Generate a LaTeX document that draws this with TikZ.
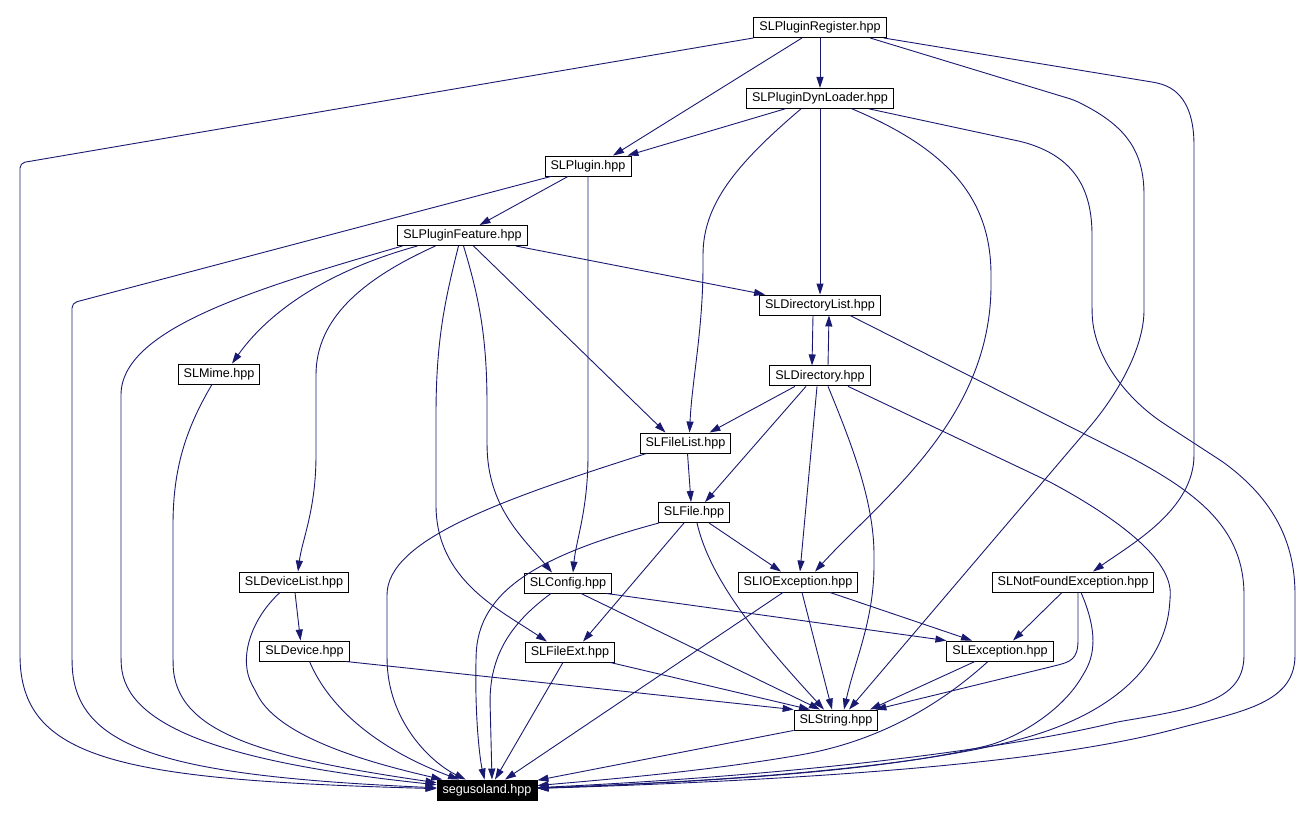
\documentclass[tikz,border=0pt]{standalone}
\usepackage{fontspec}
\setmainfont{Liberation Sans}
\usetikzlibrary{positioning,arrows.meta}
\definecolor{edgeblue}{HTML}{191970}

\begin{document}
\begin{tikzpicture}[
  x=1pt, y=-1pt,
  font=\fontsize{12.6}{14}\selectfont,
  hdr/.style={draw=black, line width=0.9pt, fill=white, inner xsep=5.5pt, inner ysep=0pt, minimum height=20pt},
  root/.style={hdr, fill=black, text=white},
  dep/.style={draw=edgeblue, line width=0.9pt, -{Triangle[length=11pt,width=7pt]}, rounded corners=5pt},
]
\useasboundingbox (0,0) rectangle (1313,817);

% ---------------- headers ----------------
\node[hdr] (reg) at (820,27.5) {SLPluginRegister.hpp};
\node[hdr, below=50pt of reg] (dynloader) {SLPluginDynLoader.hpp};
\node[hdr] (plugin) at (588,166) {SLPlugin.hpp};
\node[hdr] (feature) at (462.5,235.5) {SLPluginFeature.hpp};
\node[hdr] (dirlist) at (820,305) {SLDirectoryList.hpp};
\node[hdr] (mime) at (219,374) {SLMime.hpp};
\node[hdr, below=50pt of dirlist] (directory) {SLDirectory.hpp};
\node[hdr] (filelist) at (685.5,443) {SLFileList.hpp};
\node[hdr] (file) at (694,512.5) {SLFile.hpp};
\node[hdr] (devlist) at (294,582) {SLDeviceList.hpp};
\node[hdr] (config) at (568,583) {SLConfig.hpp};
\node[hdr] (ioexc) at (798,582) {SLIOException.hpp};
\node[hdr] (notfound) at (1073,582) {SLNotFoundException.hpp};
\node[hdr] (device) at (304.5,651) {SLDevice.hpp};
\node[hdr] (fileext) at (570,652) {SLFileExt.hpp};
\node[hdr] (exc) at (1000,651) {SLException.hpp};
\node[hdr] (string) at (836,720) {SLString.hpp};
\node[root] (seg) at (487,790) {segusoland.hpp};

% ---------------- SLPluginRegister ----------------
\draw[dep] (reg.south west) -- (20,163) -- (20,650) .. controls (20,760) and (120,780) .. (seg);
\draw[dep] ([xshift=-18pt]reg.south) -- ([xshift=25pt]plugin.north);
\draw[dep] (reg) -- (dynloader);
\draw[dep] ([xshift=50pt]reg.south) -- (1074,100) .. controls (1125,125) and (1144,150) .. (1144,200) -- (1144,305) .. controls (1144,350) and (1115,397) .. (1087,430) -- ([xshift=13pt]string.north);
\draw[dep] ([xshift=-3pt]reg.south east) -- (1158,83) .. controls (1185,92) and (1194,115) .. (1194,150) -- (1194,450) .. controls (1194,510) and (1130,545) .. ([xshift=20pt]notfound.north);

% ---------------- SLPluginDynLoader ----------------
\draw[dep] ([xshift=-35pt]dynloader.south) -- ([xshift=-4pt]plugin.north east);
\draw[dep] ([xshift=-19pt]dynloader.south) .. controls (735,165) and (703,205) .. (703,260) .. controls (703,330) and (692,380) .. ([xshift=4pt]filelist.north);
\draw[dep] (dynloader) -- (dirlist);
\draw[dep] ([xshift=32pt]dynloader.south) .. controls (950,150) and (991,200) .. (991,280) .. controls (991,420) and (880,500) .. ([xshift=17pt]ioexc.north);
\draw[dep] ([xshift=49pt]dynloader.south) -- (1023,142) .. controls (1075,158) and (1092,190) .. (1092,240) -- (1092,310) .. controls (1094,360) and (1130,400) .. (1163,423) -- (1223,462) .. controls (1280,505) and (1295,550) .. (1295,600) -- (1295,650) .. controls (1295,700) and (1250,710) .. (1183,727) .. controls (1080,755) and (900,777) .. (seg);

% ---------------- SLPlugin ----------------
\draw[dep] ([xshift=-37pt]plugin.south) -- (72,303) -- (72,660) .. controls (75,750) and (170,776) .. (seg);
\draw[dep] ([xshift=-20pt]plugin.south) -- ([xshift=17pt]feature.north);
\draw[dep] (plugin.south) -- (588,450) .. controls (588,510) and (576,540) .. ([xshift=5pt]config.north);

% ---------------- SLPluginFeature ----------------
\draw[dep] ([xshift=-60pt]feature.south) .. controls (250,290) and (121,330) .. (121,400) -- (121,660) .. controls (125,725) and (220,762) .. (seg);
\draw[dep] ([xshift=-45pt]feature.south) .. controls (330,270) and (270,310) .. ([xshift=13pt]mime.north);
\draw[dep] ([xshift=-27pt]feature.south) .. controls (360,280) and (316,320) .. (316,380) -- (316,450) .. controls (316,510) and (302,540) .. ([xshift=4pt]devlist.north);
\draw[dep] ([xshift=-4pt]feature.south) .. controls (445,300) and (436,340) .. (436,420) -- (436,500) .. controls (436,580) and (500,610) .. ([xshift=-23pt]fileext.north);
\draw[dep] ([xshift=1pt]feature.south) .. controls (480,300) and (487,340) .. (487,410) -- (487,447) .. controls (490,510) and (525,540) .. ([xshift=-16pt]config.north);
\draw[dep] ([xshift=11pt]feature.south) -- ([xshift=-20pt]filelist.north);
\draw[dep] ([xshift=-12pt]feature.south east) -- ([xshift=6pt]dirlist.north west);

% ---------------- SLDirectoryList / SLDirectory ----------------
\draw[dep] ([xshift=-7pt]dirlist.south) -- ([xshift=-8pt]directory.north);
\draw[dep] ([xshift=8pt]directory.north) -- ([xshift=9pt]dirlist.south);
\draw[dep] ([xshift=30pt]dirlist.south) -- (1130,457) .. controls (1200,495) and (1244,530) .. (1244,600) -- (1244,650) .. controls (1244,700) and (1200,708) .. (1117,722) .. controls (1000,750) and (800,775) .. (seg);
\draw[dep] ([xshift=28pt]directory.south) -- (1050,482) .. controls (1120,520) and (1172,560) .. (1170,600) .. controls (1165,660) and (1120,712) .. (1017,740) .. controls (900,770) and (700,782) .. (seg);
\draw[dep] ([xshift=-25pt]directory.south) -- ([xshift=24pt]filelist.north);
\draw[dep] ([xshift=-14pt]directory.south) -- ([xshift=11pt]file.north);
\draw[dep] ([xshift=-3pt]directory.south) -- ([xshift=2pt]ioexc.north);
\draw[dep] ([xshift=8pt]directory.south) .. controls (850,440) and (874,500) .. (874,560) .. controls (874,620) and (855,660) .. ([xshift=8pt]string.north);

% ---------------- SLMime / SLFileList / SLFile ----------------
\draw[dep] ([xshift=-7pt]mime.south) .. controls (185,430) and (173,470) .. (173,530) -- (173,660) .. controls (175,732) and (260,757) .. (seg);
\draw[dep] ([xshift=2pt]filelist.south) -- ([xshift=-3pt]file.north);
\draw[dep] ([xshift=-39pt]filelist.south) .. controls (500,500) and (387,540) .. (387,600) -- (387,660) .. controls (390,722) and (430,762) .. (seg);
\draw[dep] ([xshift=15pt]file.south) -- ([xshift=-17pt]ioexc.north);
\draw[dep] ([xshift=-10pt]file.south) -- ([xshift=13pt]fileext.north);
\draw[dep] ([xshift=3pt]file.south) .. controls (710,580) and (760,640) .. ([xshift=-12pt]string.north);
\draw[dep] ([xshift=-35pt]file.south) .. controls (540,555) and (478,590) .. (476,660) .. controls (475,720) and (480,760) .. (seg);

% ---------------- SLDeviceList / SLDevice ----------------
\draw[dep] ([xshift=1pt]devlist.south) -- ([xshift=-4pt]device.north);
\draw[dep] ([xshift=-14pt]devlist.south) .. controls (250,620) and (238,660) .. (255,690) .. controls (280,740) and (380,765) .. (seg);
\draw[dep] ([xshift=-4pt]device.south east) -- (string.north west);
\draw[dep] ([xshift=5pt]device.south) .. controls (330,710) and (380,750) .. (seg);

% ---------------- SLConfig / SLFileExt ----------------
\draw[dep] ([xshift=-6pt]config.south east) -- (exc.north west);
\draw[dep] ([xshift=13pt]config.south) -- ([xshift=-16pt]string.north);
\draw[dep] ([xshift=-17pt]config.south) .. controls (515,620) and (492,650) .. (490,700) -- ([xshift=5pt]seg.north);
\draw[dep] ([xshift=-5pt]fileext.south east) -- ([xshift=-26pt]string.north);
\draw[dep] ([xshift=-7pt]fileext.south) -- ([xshift=8pt]seg.north);

% ---------------- exceptions ----------------
\draw[dep] ([xshift=32pt]ioexc.south) -- ([xshift=-28pt]exc.north);
\draw[dep] ([xshift=4pt]ioexc.south) -- ([xshift=-4pt]string.north);
\draw[dep] ([xshift=-15pt]ioexc.south) -- ([xshift=18pt]seg.north);
\draw[dep] ([xshift=-11pt]notfound.south) -- ([xshift=13pt]exc.north);
\draw[dep] ([xshift=5pt]notfound.south) -- (1078,635) .. controls (1078,660) and (1070,662) .. (1050,667) -- ([xshift=-3pt]string.north east);
\draw[dep] ([xshift=8pt]notfound.south) .. controls (1095,625) and (1097,650) .. (1083,675) .. controls (1060,712) and (1020,735) .. (990,745) .. controls (880,772) and (700,782) .. (seg);
\draw[dep] ([xshift=-25pt]exc.south) -- ([xshift=34pt]string.north);
\draw[dep] ([xshift=-12pt]exc.south) .. controls (940,705) and (880,740) .. (800,755) .. controls (700,772) and (600,780) .. (seg);

% ---------------- SLString ----------------
\draw[dep] (string.south west) -- (seg);

\end{tikzpicture}
\end{document}
